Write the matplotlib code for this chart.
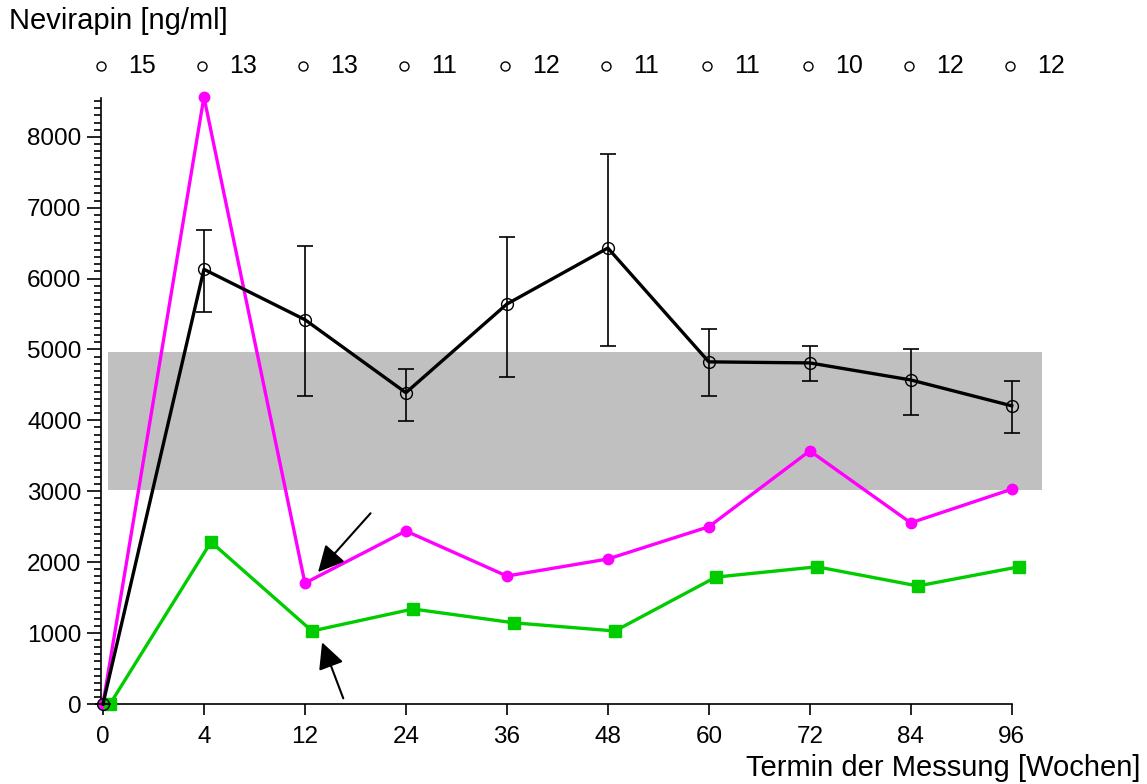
import numpy as np
import matplotlib.pyplot as plt
from matplotlib.ticker import FixedLocator

plt.rcParams['font.family'] = ['Liberation Sans', 'DejaVu Sans']

weeks = ['0', '4', '12', '24', '36', '48', '60', '72', '84', '96']
counts = [15, 13, 13, 11, 12, 11, 11, 10, 12, 12]

mean_conc = [0, 6130, 5420, 4390, 5640, 6430, 4825, 4810, 4570, 4205]
err_upper = [0, 6690, 6460, 4730, 6580, 7760, 5290, 5050, 5000, 4555]
err_lower = [0, 5530, 4345, 3990, 4615, 5050, 4345, 4555, 4075, 3825]

magenta_vals = [0, 8560, 1705, 2440, 1805, 2045, 2500, 3570, 2555, 3030]
green_vals = [0, 2285, 1030, 1340, 1145, 1030, 1790, 1935, 1665, 1935]

band_low, band_high = 3020, 4970

ind = np.arange(len(weeks))
mean_conc = np.array(mean_conc)
yerr = [mean_conc - np.array(err_lower), np.array(err_upper) - mean_conc]

fig = plt.figure(figsize=(11.47, 7.84), dpi=100)
ax = fig.add_axes([0.0880, 0.102, 0.8205, 0.796])

# reference range
ax.fill_between([0.05, 9.3], band_low, band_high, color='#c0c0c0', lw=0, zorder=0)

ax.plot(ind + 0.0, magenta_vals, color='#ff00ff', lw=2.4, marker='o', ms=7.5,
        mec='#ff00ff', mfc='#ff00ff', zorder=3, clip_on=False)
ax.plot(ind + 0.07, green_vals, color='#00cc00', lw=2.4, marker='s', ms=8.5,
        mec='#00cc00', mfc='#00cc00', zorder=4, clip_on=False)
ax.errorbar(ind, mean_conc, yerr=yerr, fmt='none', ecolor='black', elinewidth=1.2,
            capsize=6, capthick=1.2, zorder=5, clip_on=False)
ax.plot(ind, mean_conc, color='black', lw=2.4, marker='o', ms=8.5, mfc='none',
        mec='black', mew=1.0, zorder=6, clip_on=False)

# number of patients per time point
for i, n in enumerate(counts):
    ax.plot(i - 0.02, 8990, marker='o', ms=6.5, mfc='none', mec='black', mew=1.0,
            clip_on=False)
    ax.text(i + 0.25, 8990, str(n), fontsize=18, ha='left', va='center',
            clip_on=False)

# arrows
ax.annotate('', xy=(2.13, 1860), xytext=(2.65, 2690),
            arrowprops=dict(arrowstyle='-|>', color='black', lw=1.5,
                            mutation_scale=40, shrinkA=0, shrinkB=0))
ax.annotate('', xy=(2.17, 870), xytext=(2.38, 80),
            arrowprops=dict(arrowstyle='-|>', color='black', lw=1.5,
                            mutation_scale=40, shrinkA=0, shrinkB=0))

ax.set_xlim(-0.02, 9.3)
ax.set_ylim(0, 8800)
ax.set_xticks(ind)
ax.set_xticklabels(weeks, fontsize=17.5)
ax.set_yticks(np.arange(0, 8001, 1000))
ax.tick_params(axis='y', labelsize=17.5, length=10, width=1.2, pad=4)
ax.tick_params(axis='x', length=8, width=1.2, pad=8)
ax.yaxis.set_minor_locator(FixedLocator(np.arange(0, 8551, 100)))
ax.tick_params(axis='y', which='minor', length=5, width=1.2)

for s in ['top', 'right']:
    ax.spines[s].set_visible(False)
ax.spines['left'].set_bounds(0, 8550)
ax.spines['bottom'].set_bounds(0, 9)
ax.spines['left'].set_linewidth(1.2)
ax.spines['bottom'].set_linewidth(1.2)

fig.text(0.008, 1 - 21 / 784, 'Nevirapin [ng/ml]', fontsize=21, ha='left', va='center')
fig.text(0.994, 1 - 768 / 784, 'Termin der Messung [Wochen]', fontsize=21,
         ha='right', va='center')

fig.savefig('out.png', dpi=100)
